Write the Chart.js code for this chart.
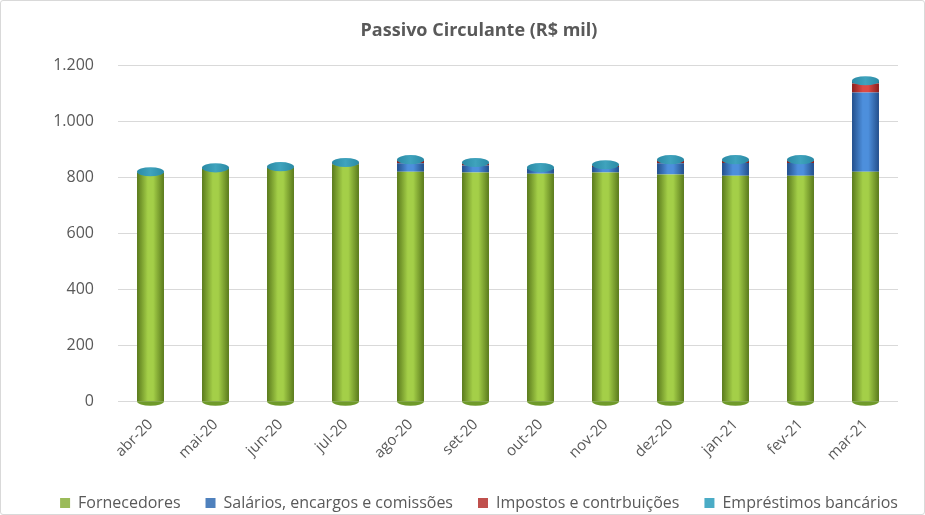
<!DOCTYPE html>
<html>
<head>
<meta charset="utf-8">
<script src="https://cdn.jsdelivr.net/npm/chart.js@4/dist/chart.umd.min.js"></script>
<style>
  html, body { margin: 0; padding: 0; background: #fff; }
  #wrap { position: absolute; left: 0; top: 0; width: 923px; height: 513px; border: 1px solid #d9d9d9; border-radius: 3px; }
</style>
</head>
<body>
<div id="wrap"><canvas id="myChart" width="923" height="513"></canvas></div>
<script>
// meses
var months = ["abr-20", "mai-20", "jun-20", "jul-20", "ago-20", "set-20", "out-20", "nov-20", "dez-20", "jan-21", "fev-21", "mar-21"];

// valores em R$ mil
var fornecedores = [818, 832, 836, 848, 821, 818, 814, 818, 811, 807, 807, 821];
var salarios     = [0, 0, 0, 0, 30, 25, 18, 20, 40, 45, 45, 283];
var impostos     = [0, 0, 0, 3, 8, 7, 0, 5, 8, 8, 8, 32];
var emprestimos  = [3, 3, 3, 3, 5, 4, 4, 3, 5, 4, 4, 10];

var yTicks = [0, 200, 400, 600, 800, 1000, 1200];

var seriesNames = ["Fornecedores", "Salários, encargos e comissões", "Impostos e contrbuições", "Empréstimos bancários"];
// dark edge, light center, flat
var shades = [
  ["#5a7a1c", "#a4cf48", "#9bbb59"],
  ["#234f8c", "#4d8fdc", "#4f81bd"],
  ["#8a1f1c", "#dc4a44", "#c0504d"],
  ["#1d6f86", "#4fbad6", "#4bacc6"]
];

var barFrac = 0.415;

// cylinder-like horizontal gradient for each bar
function cylFill(k) {
  return function(ctx) {
    var chart = ctx.chart;
    var xs = chart.scales.x;
    if (!xs || ctx.dataIndex === undefined) return shades[k][2];
    var cx = xs.getPixelForValue(ctx.dataIndex);
    var w = xs.width / months.length * barFrac;
    var g = chart.ctx.createLinearGradient(cx - w / 2, 0, cx + w / 2, 0);
    g.addColorStop(0, shades[k][0]);
    g.addColorStop(0.4, shades[k][1]);
    g.addColorStop(0.6, shades[k][1]);
    g.addColorStop(1, shades[k][0]);
    return g;
  };
}

function fmt(v) {
  return String(v).replace(/\B(?=(\d{3})+(?!\d))/g, ".");
}

var seriesData = [fornecedores, salarios, impostos, emprestimos];
var datasets = [];
for (var i = 0; i < seriesData.length; i++) {
  datasets.push({
    label: seriesNames[i],
    data: seriesData[i],
    backgroundColor: cylFill(i),
    borderWidth: 0,
    categoryPercentage: 1,
    barPercentage: barFrac
  });
}

// elliptical top on each column so it reads as a cylinder
var capsPlugin = {
  id: "caps",
  afterDatasetsDraw: function(chart) {
    var ctx = chart.ctx;
    var last = chart.data.datasets.length - 1;
    var top = chart.getDatasetMeta(last).data;
    var first = chart.getDatasetMeta(0).data;
    ctx.save();
    for (var i = 0; i < top.length; i++) {
      var el = top[i];
      var rx = el.width / 2, ry = el.width * 0.17;
      // rounded bottom
      var b = first[i];
      ctx.beginPath();
      ctx.ellipse(b.x, b.base, rx, ry, 0, 0, Math.PI);
      ctx.fillStyle = "#6f9a2a";
      ctx.fill();
      // top face
      var g = ctx.createLinearGradient(el.x - rx, 0, el.x + rx, 0);
      g.addColorStop(0, "#2a8aa5");
      g.addColorStop(0.5, "#3fa3bd");
      g.addColorStop(1, "#2a8aa5");
      ctx.beginPath();
      ctx.ellipse(el.x, el.y, rx, ry, 0, 0, Math.PI * 2);
      ctx.fillStyle = g;
      ctx.fill();
    }
    ctx.restore();
  }
};

var legendColors = ["#9bbb59", "#4f81bd", "#c0504d", "#4bacc6"];

new Chart("myChart", {
  type: "bar",
  data: { labels: months, datasets: datasets },
  plugins: [capsPlugin],
  options: {
    responsive: false,
    animation: false,
    layout: { padding: { left: 33, right: 0, top: 0, bottom: -7 } },
    plugins: {
      title: {
        display: true,
        text: "Passivo Circulante (R$ mil)",
        color: "#595959",
        font: { family: "Open Sans", size: 18, weight: "bold" },
        padding: { top: 19, bottom: 24 }
      },
      legend: {
        position: "bottom",
        labels: {
          color: "#595959",
          font: { family: "Open Sans", size: 16 },
          boxWidth: 10,
          boxHeight: 10,
          padding: 25,
          generateLabels: function(chart) {
            return chart.data.datasets.map(function(ds, i) {
              return { text: ds.label, fillStyle: legendColors[i], strokeStyle: legendColors[i], lineWidth: 0, datasetIndex: i, fontColor: "#595959" };
            });
          }
        }
      },
      tooltip: { enabled: false }
    },
    scales: {
      x: {
        stacked: true,
        grid: { display: false },
        border: { display: false },
        ticks: {
          color: "#595959",
          font: { family: "Open Sans", size: 15 },
          minRotation: 45,
          maxRotation: 45,
          padding: 6
        }
      },
      y: {
        stacked: true,
        min: 0,
        max: 1200,
        afterBuildTicks: function(axis) {
          axis.ticks = yTicks.map(function(v) { return { value: v }; });
        },
        afterFit: function(axis) { axis.width = 84; },
        grid: { color: "#d9d9d9", drawTicks: false },
        border: { display: false },
        ticks: {
          color: "#595959",
          font: { family: "Open Sans", size: 16 },
          padding: 24,
          callback: function(v) { return fmt(v); }
        }
      },
      // empty right axis, only keeps space at the right of the plot
      yRight: {
        position: "right",
        grid: { display: false },
        border: { display: false },
        ticks: { display: false },
        afterFit: function(axis) { axis.width = 26; }
      }
    }
  }
});
</script>
</body>
</html>
